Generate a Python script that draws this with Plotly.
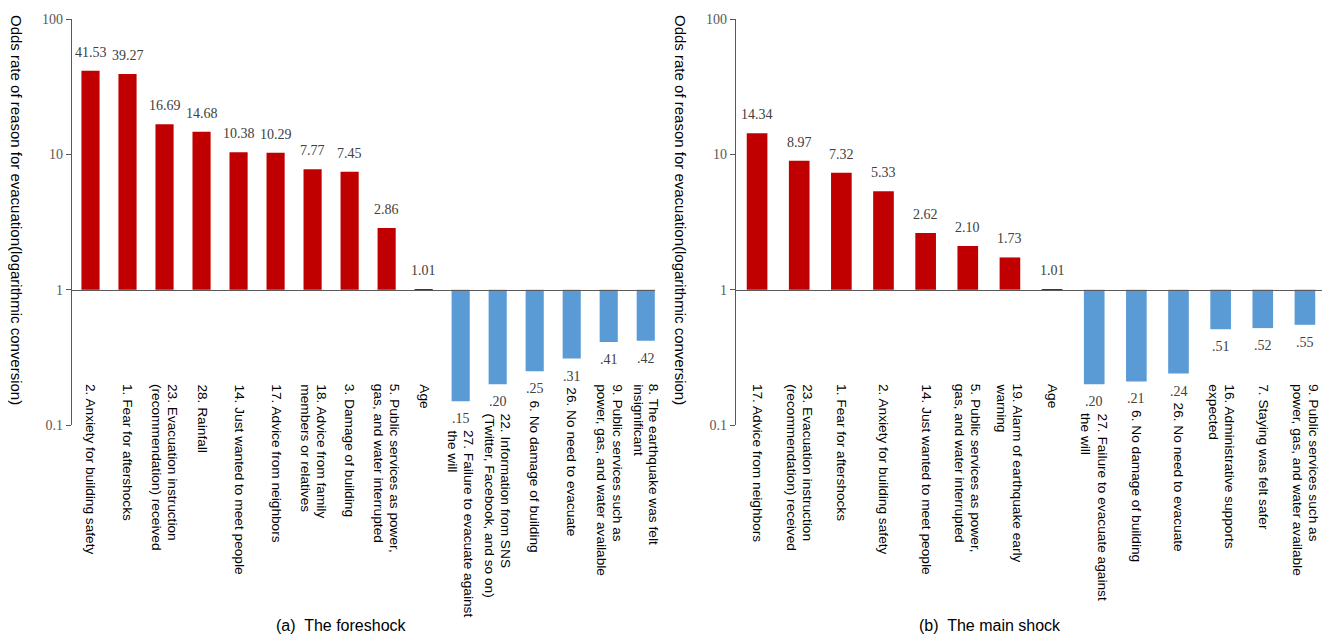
import numpy as np
import plotly.graph_objects as go

# ---- data ----
fore_labels = [
    "2. Anxiety for building safety",
    "1. Fear for aftershocks",
    "23. Evacuation instruction<br>(recommendation) received",
    "28. Rainfall",
    "14. Just wanted to meet people",
    "17. Advice from neighbors",
    "18. Advice from family<br>members or relatives",
    "3. Damage of building",
    "5. Public services as power,<br>gas, and water interrupted",
    "Age",
    "27. Failure to evacuate against<br>the will",
    "22. Information from SNS<br>(Twitter, Facebook, and so on)",
    "6. No damage of building",
    "26. No need to evacuate",
    "9. Public services such as<br>power, gas, and water available",
    "8. The earthquake was felt<br>insignificant",
]
fore_values = [41.53, 39.27, 16.69, 14.68, 10.38, 10.29, 7.77, 7.45, 2.86, 1.01,
               0.15, 0.20, 0.25, 0.31, 0.41, 0.42]

main_labels = [
    "17. Advice from neighbors",
    "23. Evacuation instruction<br>(recommendation) received",
    "1. Fear for aftershocks",
    "2. Anxiety for building safety",
    "14. Just wanted to meet people",
    "5. Public services as power,<br>gas, and water interrupted",
    "19. Alarm of earthquake early<br>warning",
    "Age",
    "27. Failure to evacuate against<br>the will",
    "6. No damage of building",
    "26. No need to evacuate",
    "16. Administrative supports<br>expected",
    "7. Staying was felt safer",
    "9. Public services such as<br>power, gas, and water available",
]
main_values = [14.34, 8.97, 7.32, 5.33, 2.62, 2.10, 1.73, 1.01,
               0.20, 0.21, 0.24, 0.51, 0.52, 0.55]

y_tick_vals = [0.1, 1, 10, 100]
y_tick_text = ["0.1", "1", "10", "100"]
y_title = "Odds rate of reason for evacuation(logarithmic conversion)"
panel_titles = ["(a)  The foreshock", "(b)  The main shock"]

RED = "#C00000"
BLUE = "#5B9BD5"
AXIS = "#595959"
VAL_FONT = dict(family="Liberation Serif, DejaVu Serif, serif", size=14, color="#404040")
CAT_FONT = dict(family="Liberation Sans, Arial, sans-serif", size=13.7, color="#000000")
LINE_GAP = 16
LABEL_GAP = 27  # px between negative bar end and its category label

# page offset (body margin) compensation
OFF = 8
W, H = 1330 - OFF, 637 - OFF


def fx(px):
    return (px - OFF) / W


def fy(py):
    return 1 - (py - OFF) / H


ydom = [fy(425), fy(19)]
px_per_decade = (ydom[1] - ydom[0]) * H / 3.0

fig = go.Figure()
annotations = []

panels = [
    dict(labels=fore_labels, values=fore_values, xa="x", ya="y",
         dom=[fx(72), fx(655)], rng=[-0.5, len(fore_values) - 0.75],
         title_x=fx(17), sub_x=fx(341)),
    dict(labels=main_labels, values=main_values, xa="x2", ya="y2",
         dom=[fx(736), fx(1326)], rng=[-0.5, len(main_values) - 0.5],
         title_x=fx(681), sub_x=fx(990)),
]

clamp = np.log10(0.208)

for pi, p in enumerate(panels):
    vals = np.array(p["values"])
    colors = [RED if v >= 1 else BLUE for v in vals]
    fig.add_trace(go.Bar(
        x=list(range(len(vals))), y=vals - 1, base=1,
        marker=dict(color=colors, line=dict(width=0)),
        xaxis=p["xa"], yaxis=p["ya"], width=0.49,
        hoverinfo="skip", showlegend=False,
    ))
    for i, (lab, v) in enumerate(zip(p["labels"], vals)):
        txt = f"{v:.2f}"
        if v < 1:
            txt = txt.lstrip("0")
        annotations.append(dict(
            x=i, y=np.log10(v), xref=p["xa"], yref=p["ya"], text=txt,
            showarrow=False, font=VAL_FONT, xanchor="center",
            yanchor="bottom" if v >= 1 else "top",
            yshift=9 if v >= 1 else -8,
        ))
        lv = np.log10(v)
        if lv - LABEL_GAP / px_per_decade < clamp:
            ya_, ysh = lv, -LABEL_GAP
        else:
            ya_, ysh = clamp, 0
        lines = lab.split("<br>")
        n = len(lines)
        for k, ln in enumerate(lines):
            annotations.append(dict(
                x=i, y=ya_, xref=p["xa"], yref=p["ya"], text=ln,
                showarrow=False, font=CAT_FONT, textangle=90,
                xanchor="center", yanchor="top", yshift=ysh,
                xshift=((n - 1) / 2 - k) * LINE_GAP,
            ))
    annotations.append(dict(
        x=p["title_x"], y=fy(210), xref="paper", yref="paper",
        text=y_title, textangle=90, showarrow=False,
        font=dict(family="Liberation Sans, Arial, sans-serif", size=15, color="#000000"),
        xanchor="center", yanchor="middle",
    ))
    annotations.append(dict(
        x=p["sub_x"], y=fy(625), xref="paper", yref="paper",
        text=panel_titles[pi], showarrow=False,
        font=dict(family="Liberation Sans, Arial, sans-serif", size=16, color="#000000"),
        xanchor="center", yanchor="middle",
    ))

xpos = ydom[0] + (1 / 3) * (ydom[1] - ydom[0])
common_x = dict(showticklabels=False, showgrid=False, zeroline=False, ticks="",
                showline=True, linecolor=AXIS, linewidth=1.3, anchor="free",
                position=xpos, fixedrange=True, automargin=False)
common_y = dict(type="log", range=[-1, 2], tickvals=y_tick_vals, ticktext=y_tick_text,
                showgrid=False, zeroline=False, showline=True, linecolor=AXIS,
                linewidth=1.3, ticks="outside", ticklen=5, tickcolor=AXIS,
                tickfont=dict(family="Liberation Serif, DejaVu Serif, serif",
                              size=14, color="#595959"),
                domain=ydom, fixedrange=True, automargin=False)

fig.update_layout(
    width=W, height=H,
    margin=dict(l=0, r=0, t=0, b=0),
    paper_bgcolor="white", plot_bgcolor="white",
    bargap=0.5,
    xaxis=dict(domain=panels[0]["dom"], range=panels[0]["rng"], **common_x),
    xaxis2=dict(domain=panels[1]["dom"], range=panels[1]["rng"], **common_x),
    yaxis=dict(anchor="x", **common_y),
    yaxis2=dict(anchor="x2", **common_y),
    annotations=annotations,
)

fig.write_html("out.html")
